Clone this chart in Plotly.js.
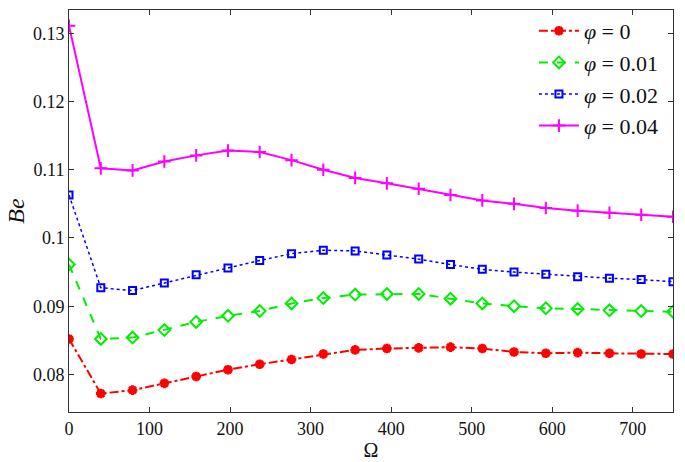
<!DOCTYPE html>
<html>
<head>
<meta charset="utf-8">
<script src="https://cdn.plot.ly/plotly-3.0.1.min.js"></script>
<style>html,body{margin:0;padding:0;background:#fff;}#chart{width:685px;height:462px;}</style>
</head>
<body>
<div id="chart"></div>
<script>
const omega = [0, 39.5, 78.9, 118.4, 157.9, 197.4, 236.8, 276.3, 315.8, 355.3, 394.7, 434.2, 473.7, 513.2, 552.6, 592.1, 631.6, 671.1, 710.5, 750];
const phi0   = [0.0852, 0.0772, 0.0777, 0.0787, 0.0797, 0.0807, 0.0815, 0.0822, 0.0830, 0.0836, 0.0838, 0.0839, 0.0840, 0.0838, 0.0833, 0.0831, 0.0832, 0.0831, 0.0830, 0.0830];
const phi001 = [0.0961, 0.0852, 0.0854, 0.0865, 0.0877, 0.0886, 0.0893, 0.0904, 0.0912, 0.0917, 0.0918, 0.0918, 0.0911, 0.0904, 0.0900, 0.0897, 0.0896, 0.0894, 0.0893, 0.0892];
const phi002 = [0.1063, 0.0927, 0.0923, 0.0934, 0.0946, 0.0956, 0.0967, 0.0977, 0.0982, 0.0981, 0.0975, 0.0969, 0.0961, 0.0954, 0.0950, 0.0947, 0.0943, 0.0941, 0.0939, 0.0936];
const phi004 = [0.1311, 0.1102, 0.1099, 0.1112, 0.1121, 0.1128, 0.1126, 0.1114, 0.1100, 0.1088, 0.1080, 0.1072, 0.1063, 0.1055, 0.1050, 0.1044, 0.1040, 0.1037, 0.1034, 0.1031];
const names = ['<i>φ</i> = 0', '<i>φ</i> = 0.01', '<i>φ</i> = 0.02', '<i>φ</i> = 0.04'];
const xTicks = [0, 100, 200, 300, 400, 500, 600, 700];
const yTicks = [0.08, 0.09, 0.1, 0.11, 0.12, 0.13];
const yTickText = ['0.08', '0.09', '0.1', '0.11', '0.12', '0.13'];

const serif = '"Times New Roman", "Liberation Serif", Times, serif';

const traces = [
  {x: omega, y: phi0, name: names[0], mode: 'lines+markers',
   line: {color: '#ff0000', width: 2, dash: 'dashdot'},
   marker: {symbol: 'asterisk-open', size: 8, color: '#ff0000', line: {color: '#ff0000', width: 3}}},
  {x: omega, y: phi001, name: names[1], mode: 'lines+markers',
   line: {color: '#00ee00', width: 2, dash: 'dash'},
   marker: {symbol: 'diamond-open', size: 9, color: '#00ee00', line: {color: '#00ee00', width: 2}}},
  {x: omega, y: phi002, name: names[2], mode: 'lines+markers',
   line: {color: '#0000ff', width: 1.5, dash: 'dot'},
   marker: {symbol: 'square-open', size: 7, color: '#0000ff', line: {color: '#0000ff', width: 2}}},
  {x: omega, y: phi004, name: names[3], mode: 'lines+markers',
   line: {color: '#ff00ff', width: 2},
   marker: {symbol: 'cross-thin-open', size: 9, color: '#ff00ff', line: {color: '#ff00ff', width: 2}}}
];

const axisCommon = {
  showgrid: false, zeroline: false, showline: true, linecolor: '#333', linewidth: 1,
  mirror: 'ticks', ticks: 'inside', ticklen: 5, tickcolor: '#333',
  tickfont: {family: serif, size: 18, color: '#111'}
};

const layout = {
  width: 685, height: 462,
  margin: {l: 69, r: 12, t: 10, b: 50},
  paper_bgcolor: '#fff', plot_bgcolor: '#fff',
  font: {family: serif, color: '#111'},
  xaxis: Object.assign({}, axisCommon, {
    range: [0, 750], tickvals: xTicks,
    title: {text: 'Ω', font: {family: serif, size: 20}, standoff: 4}
  }),
  yaxis: Object.assign({}, axisCommon, {
    range: [0.0745, 0.1334], tickvals: yTicks, ticktext: yTickText,
    title: {text: '<i>Be</i>', font: {family: serif, size: 24}, standoff: 1}
  }),
  legend: {
    x: 0.985, y: 1.0, xanchor: 'right', yanchor: 'top',
    bgcolor: 'rgba(255,255,255,0)', borderwidth: 0,
    font: {family: serif, size: 22, color: '#111'},
    tracegroupgap: 0, itemwidth: 40
  },
  showlegend: true
};

Plotly.newPlot('chart', traces, layout, {displayModeBar: false, staticPlot: true});
</script>
</body>
</html>
